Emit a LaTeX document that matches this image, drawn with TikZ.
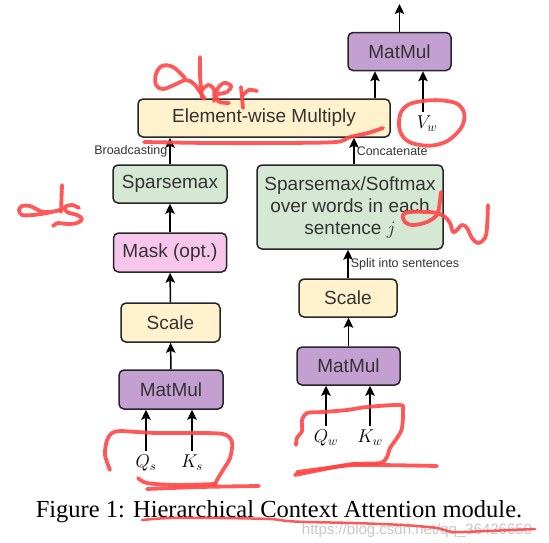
\RequirePackage{fix-cm}
\documentclass[tikz,border=0pt]{standalone}
\usepackage{fontspec}
\setmainfont{Liberation Serif}
\setsansfont{Liberation Sans}
\usetikzlibrary{arrows.meta}
\definecolor{mmpurple}{HTML}{C39FD2}
\definecolor{boxyellow}{HTML}{FFF2CC}
\definecolor{boxgreen}{HTML}{D5E8D4}
\definecolor{boxpink}{HTML}{F8C6EC}
\definecolor{inkred}{HTML}{FF4646}
\begin{document}
\begin{tikzpicture}[x=1pt,y=-1pt,
  blk/.style={draw=black!85,line width=1.5pt,rounded corners=5pt,font=\sffamily\fontsize{19}{22}\selectfont,text=black!80,inner sep=0pt,align=center},
  arr/.style={-{Stealth[length=10pt,width=9.5pt,inset=2pt]},line width=1.5pt},
  lbl/.style={font=\sffamily\fontsize{12.5}{14}\selectfont,text=black!80,inner sep=2pt},
  sym/.style={font=\fontsize{18.5}{20}\selectfont,inner sep=4pt},
  ink/.style={inkred,line width=3.8pt,line cap=round,line join=round,opacity=.9}]
\useasboundingbox (0,0) rectangle (549,542);
\node[blk,fill=mmpurple,minimum width=103pt,minimum height=38pt] (mmtop) at (399.5,51.5) {MatMul};
\node[blk,fill=boxyellow,minimum width=252pt,minimum height=38pt] (ewm) at (264,118) {Element-wise Multiply};
\node[sym] (vw) at (427,124) {$V_w$};
\node[blk,fill=boxgreen,minimum width=114pt,minimum height=38pt] (spmx) at (170,184) {Sparsemax};
\node[blk,fill=boxpink,minimum width=113pt,minimum height=39pt] (mask) at (170,252.5) {Mask (opt.)};
\node[blk,fill=boxyellow,minimum width=99pt,minimum height=39pt] (scll) at (170.5,322.5) {Scale};
\node[blk,fill=mmpurple,minimum width=104pt,minimum height=39pt] (mml) at (171,389.5) {MatMul};
\node[sym] (qs) at (146,463) {$Q_s$};
\node[sym] (ks) at (192,463) {$K_s$};
\node[blk,fill=boxgreen,minimum width=186pt,minimum height=84pt] (sent) at (350,207) {Sparsemax/Softmax\\over words in each\\sentence $j$};
\node[blk,fill=boxyellow,minimum width=98pt,minimum height=38pt] (sclr) at (348,298) {Scale};
\node[blk,fill=mmpurple,minimum width=103pt,minimum height=38pt] (mmr) at (348.5,366) {MatMul};
\node[sym] (qw) at (326,438) {$Q_w$};
\node[sym] (kw) at (370,438) {$K_w$};
\coordinate (out) at (399.5,4);
\draw[arr] (mmtop) -- (out);
\draw[arr] ([xshift=-24.5pt]mmtop.south |- ewm.north) -- ([xshift=-24.5pt]mmtop.south);
\draw[arr] ([xshift=-4pt]vw.north) -- ([xshift=-4pt]vw.north |- mmtop.south);
\draw[arr] (spmx) -- (spmx |- ewm.south) node[lbl,midway,left] {Broadcasting};
\draw[arr] ([xshift=4pt]sent.north) -- ([xshift=4pt]sent.north |- ewm.south) node[lbl,midway,right] {Concatenate};
\draw[arr] (mask) -- (spmx);
\draw[arr] (scll) -- (mask);
\draw[arr] (mml) -- (scll);
\draw[arr] (qs) -- (qs |- mml.south);
\draw[arr] (ks) -- (ks |- mml.south);
\draw[arr] (sclr) -- (sclr |- sent.south) node[lbl,midway,right] {Split into sentences};
\draw[arr] (mmr) -- (mmr |- sclr.south);
\draw[arr] (qw) -- (qw |- mmr.south);
\draw[arr] (kw) -- (kw |- mmr.south);
\node[font=\fontsize{24.5}{28}\selectfont,anchor=base] (cap) at (279,517) {Figure 1: Hierarchical Context Attention module.};
\node[font=\sffamily\fontsize{15}{17}\selectfont,text=black!22,anchor=base] (wm) at (417,534) {https://blog.csdn.net/qq\_36426650};
\draw[ink] plot[smooth,tension=.6] coordinates {(185,78) (173,67) (162,66) (156,74) (156,85) (163,89) (174,85) (186,80) (194,84) (200,92) (205,99)};
\draw[ink] plot[smooth] coordinates {(200,57) (200,75) (202,98)};
\draw[ink] plot[smooth] coordinates {(202,90) (208,85) (214,89) (214,101)};
\draw[ink] plot[smooth,tension=.6] coordinates {(218,94) (227,92) (231,86) (224,83) (217,90) (218,101) (229,103)};
\draw[ink] (241,87) -- (243,108);
\draw[ink] plot[smooth] coordinates {(242,96) (249,90) (257,91)};
\draw[ink] plot[smooth] coordinates {(144,142) (210,143) (280,143) (336,142) (350,137) (368,133) (383,128)};
\draw[ink] plot[smooth] coordinates {(62,185) (61,212)};
\draw[ink] plot[smooth,tension=.5] coordinates {(60,210) (47,213) (33,215) (22,215) (19,210) (22,206) (30,206) (43,212) (57,211)};
\draw[ink] plot[smooth,tension=.6] coordinates {(79,208) (72,205) (65,207) (67,212) (77,215) (82,219) (77,223) (67,224) (58,223) (53,226)};
\draw[ink] plot[smooth cycle,tension=.7] coordinates {(405,107) (423,101) (447,101) (461,107) (464,121) (455,135) (440,144) (420,145) (404,138) (399,122)};
\draw[ink] plot[smooth,tension=.6] coordinates {(441,192) (439,208) (437,215) (427,222) (413,225) (405,222) (403,215) (410,212) (427,212) (437,213) (445,217) (450,223) (453,232) (457,230) (462,225) (467,228) (472,238) (478,243) (485,238) (487,227) (488,205)};
\draw[ink] plot[smooth,tension=.5] coordinates {(110,470) (105,455) (107,440) (112,433) (120,431) (137,432) (157,433) (190,433) (223,434) (232,442) (230,458) (223,470) (217,480) (215,485)};
\draw[ink] plot[smooth] coordinates {(138,478) (147,483) (175,485) (215,484)};
\draw[ink] plot[smooth] coordinates {(147,489) (200,487) (259,486)};
\draw[ink] plot[smooth,tension=.5] coordinates {(296,445) (297,438) (302,431) (302,420) (307,413) (323,412) (347,410) (367,407) (400,405) (403,410) (402,428) (397,438) (390,448) (387,457) (380,463) (353,464) (330,468) (310,472) (295,475)};
\draw[ink] plot[smooth] coordinates {(297,472) (320,469) (357,465) (437,466)};
\draw[ink,line width=2.5pt] plot[smooth] coordinates {(142,520) (170,518) (220,518) (270,519) (287,521) (307,522) (353,523) (403,525) (437,528) (453,532) (487,531) (535,529)};
\end{tikzpicture}
\end{document}
